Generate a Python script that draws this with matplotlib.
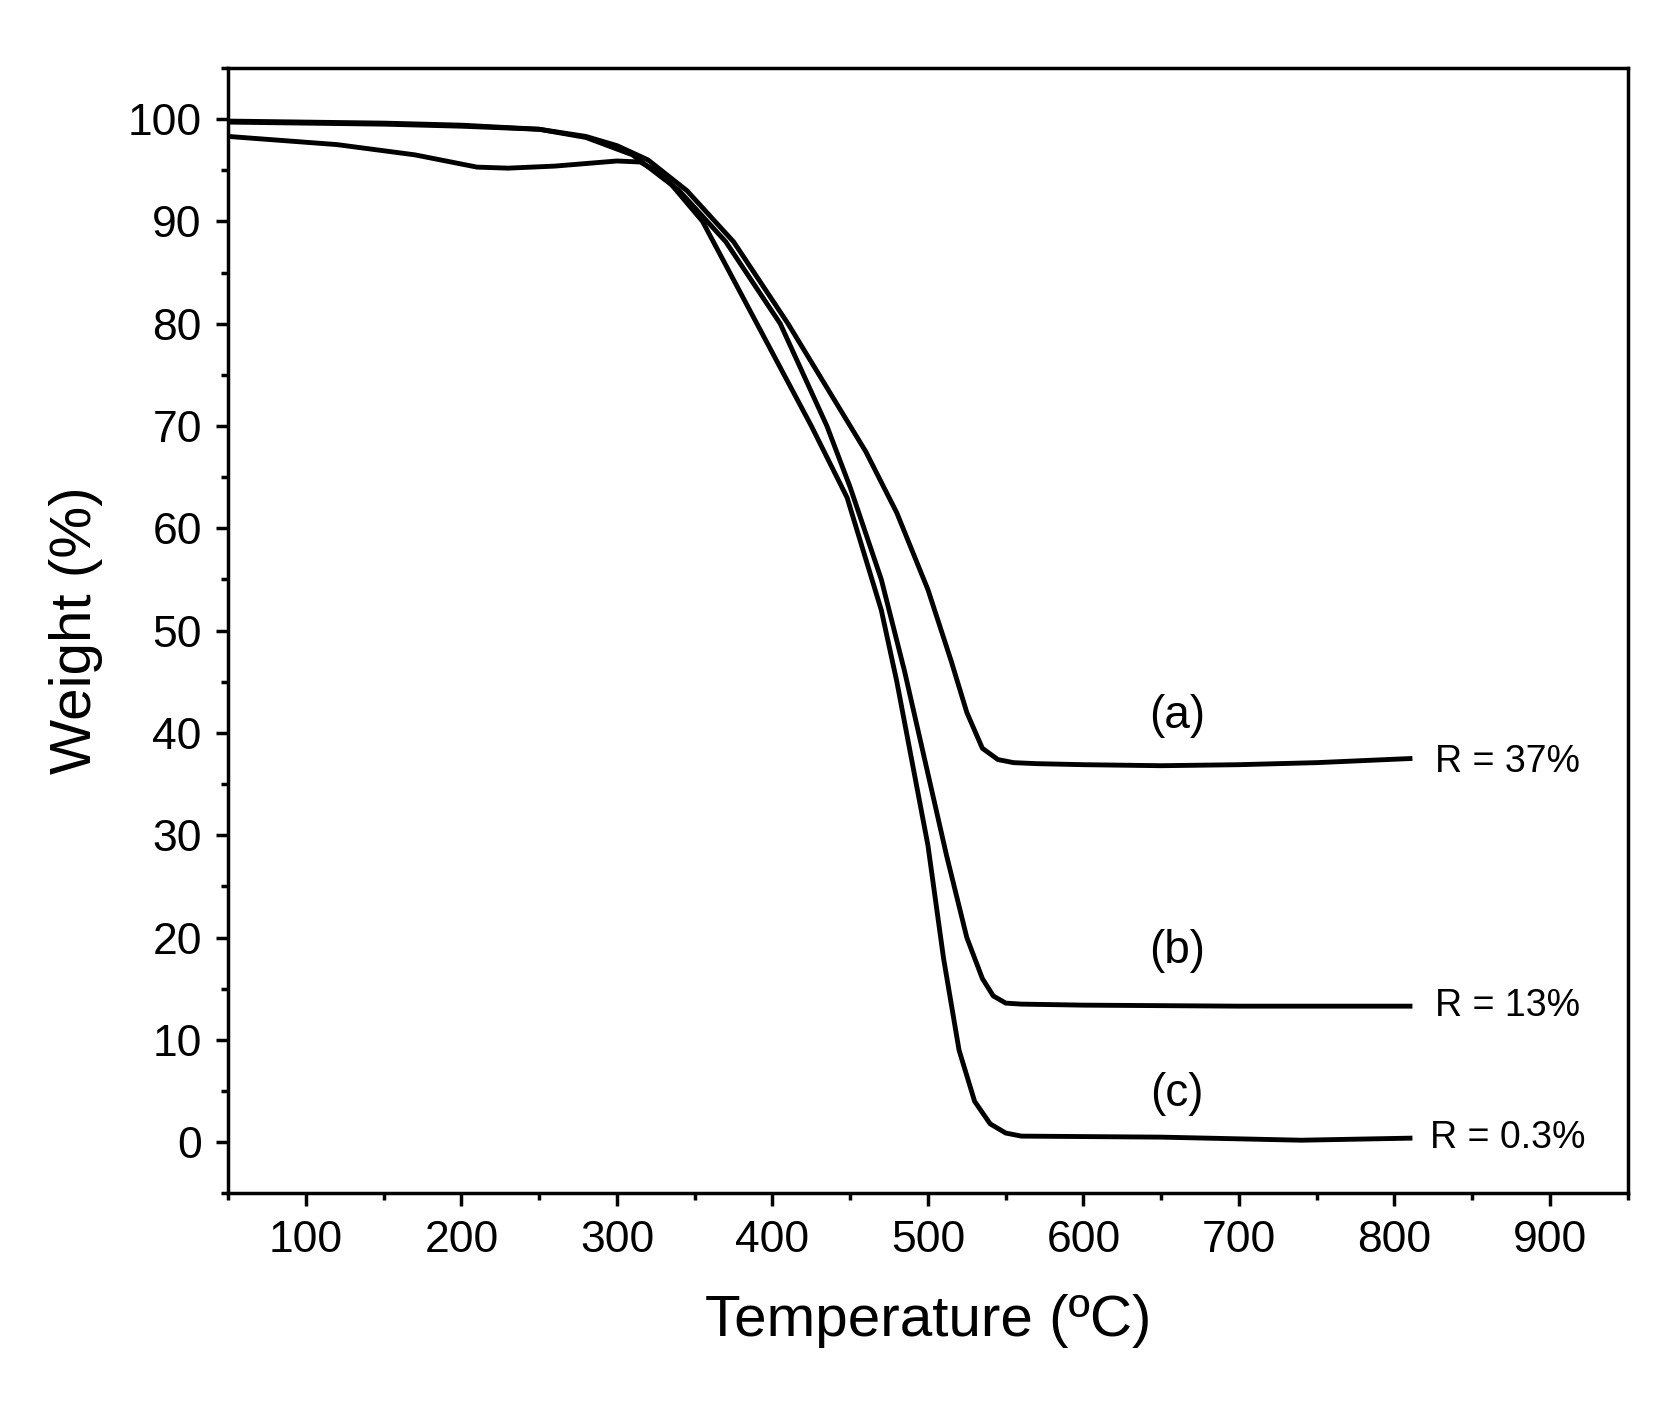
import matplotlib.pyplot as plt
from matplotlib.ticker import MultipleLocator

plt.rcParams['font.family'] = ['Liberation Sans', 'DejaVu Sans']

# curve (a)
ta = [50, 100, 150, 200, 250, 280, 300, 320, 345, 375, 410, 440, 460, 480, 500, 515, 525, 535, 545, 555, 570, 600, 650, 700, 750, 810]
wa = [99.8, 99.7, 99.6, 99.4, 99.0, 98.3, 97.4, 96.0, 93.0, 88.0, 80.0, 72.5, 67.5, 61.5, 54.0, 47.0, 42.0, 38.5, 37.4, 37.1, 37.0, 36.9, 36.8, 36.9, 37.1, 37.5]
# curve (b)
tb = [50, 100, 150, 200, 250, 280, 310, 340, 370, 405, 435, 450, 470, 485, 500, 512, 525, 535, 542, 550, 560, 600, 700, 810]
wb = [99.7, 99.6, 99.5, 99.3, 99.0, 98.2, 96.5, 93.0, 88.0, 80.0, 70.0, 64.0, 55.0, 46.0, 36.0, 28.0, 20.0, 16.0, 14.3, 13.6, 13.5, 13.4, 13.3, 13.3]
# curve (c)
tc = [50, 120, 170, 210, 230, 260, 300, 315, 330, 355, 390, 425, 448, 460, 470, 480, 490, 500, 510, 520, 530, 540, 550, 560, 650, 740, 810]
wc = [98.3, 97.5, 96.5, 95.3, 95.2, 95.4, 95.9, 95.8, 94.5, 90.0, 80.0, 70.0, 63.0, 57.0, 52.0, 45.0, 37.0, 29.0, 18.0, 9.0, 4.0, 1.8, 0.9, 0.6, 0.5, 0.2, 0.4]

fig = plt.figure(figsize=(16.66, 14.14), dpi=100)
ax = fig.add_axes([0.137, 0.156, 0.84, 0.796])
for t, w in [(ta, wa), (tb, wb), (tc, wc)]:
    ax.plot(t, w, color='black', lw=3.5)

ax.set_xlim(50, 950)
ax.set_ylim(-5, 105)
ax.xaxis.set_minor_locator(MultipleLocator(50))
ax.yaxis.set_major_locator(MultipleLocator(10))
ax.yaxis.set_minor_locator(MultipleLocator(5))
ax.set_xticks(range(100, 1000, 100))
ax.tick_params(which='major', length=9, width=2.5, labelsize=32, pad=10)
ax.tick_params(which='minor', length=5, width=2.5)
for s in ax.spines.values():
    s.set_linewidth(2.5)
ax.set_xlabel('Temperature (ºC)', fontsize=42, labelpad=24)
ax.set_ylabel('Weight (%)', fontsize=42, labelpad=18)

for lab, y in [('(a)', 40.5), ('(b)', 17.5), ('(c)', 3.5)]:
    ax.text(660, y, lab, fontsize=33, ha='center')
for lab, y in [('R = 37%', 37.2), ('R = 13%', 13.3), ('R = 0.3%', 0.4)]:
    ax.text(873, y, lab, fontsize=27, ha='center', va='center')

fig.savefig('out.png')
